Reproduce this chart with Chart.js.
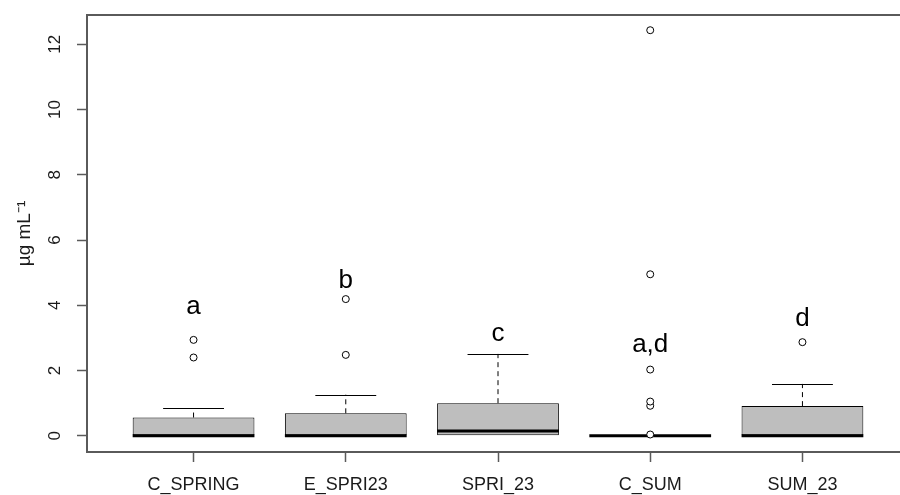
<!DOCTYPE html>
<html>
<head>
<meta charset="utf-8">
<script src="https://cdn.jsdelivr.net/npm/chart.js@4.4.1/dist/chart.umd.min.js"></script>
<style>
  html, body { margin: 0; padding: 0; background: #fff; overflow: hidden; }
  #wrap { width: 900px; height: 495px; overflow: hidden; }
</style>
</head>
<body>
<div id="wrap"><canvas id="boxChart" width="914" height="495"></canvas></div>
<script>
// groups and box statistics
var categories = ['C_SPRING', 'E_SPRI23', 'SPRI_23', 'C_SUM', 'SUM_23'];
var whiskerLow = [0, 0, 0, 0, 0];
var q1 = [0, 0, 0, 0, 0];
var median = [0, 0, 0.15, 0, 0];
var q3 = [0.56, 0.69, 1.0, 0, 0.91];
var whiskerHigh = [0.84, 1.26, 2.51, 0, 1.59];
var outliers = [
  [2.40, 2.94],
  [2.48, 4.19],
  [],
  [0.04, 0.92, 1.05, 2.03, 4.95, 12.43],
  [2.87]
];
// significance letters and their baseline height
var letters = ['a', 'b', 'c', 'a,d', 'd'];
var letterY = [3.72, 4.54, 2.92, 2.56, 3.38];
var yTicks = [0, 2, 4, 6, 8, 10, 12];

var frameColor = '#5a5a5a';

var boxData = [];
var outlierData = [];
for (var i = 0; i < categories.length; i++) {
  boxData.push({ x: i + 1, y: [q1[i], q3[i]] });
  for (var j = 0; j < outliers[i].length; j++) {
    outlierData.push({ x: i + 1, y: outliers[i][j] });
  }
}

// whiskers, staples and medians, drawn right after the boxes
var boxExtras = {
  id: 'boxExtras',
  afterDatasetDraw: function(chart, args) {
    if (args.index !== 1) return;
    var ctx = chart.ctx;
    var xs = chart.scales.x, ys = chart.scales.y;
    var unit = xs.getPixelForValue(2) - xs.getPixelForValue(1);
    ctx.save();
    for (var i = 0; i < categories.length; i++) {
      var cx = xs.getPixelForValue(i + 1);
      var half = unit * 0.4;
      var staple = unit * 0.2;
      ctx.strokeStyle = '#000';
      ctx.lineWidth = 1;
      // dashed whiskers
      ctx.setLineDash([5, 4]);
      ctx.beginPath();
      ctx.moveTo(cx, ys.getPixelForValue(q3[i]));
      ctx.lineTo(cx, ys.getPixelForValue(whiskerHigh[i]));
      ctx.moveTo(cx, ys.getPixelForValue(q1[i]));
      ctx.lineTo(cx, ys.getPixelForValue(whiskerLow[i]));
      ctx.stroke();
      ctx.setLineDash([]);
      // staples (the low one sits on the box edge when it equals q1)
      ctx.beginPath();
      var yh = Math.round(ys.getPixelForValue(whiskerHigh[i])) + 0.5;
      ctx.moveTo(cx - staple, yh); ctx.lineTo(cx + staple, yh);
      if (whiskerLow[i] < q1[i]) {
        var yl = Math.round(ys.getPixelForValue(whiskerLow[i])) + 0.5;
        ctx.moveTo(cx - staple, yl); ctx.lineTo(cx + staple, yl);
      }
      ctx.stroke();
      // median
      ctx.lineWidth = 3;
      ctx.beginPath();
      var ym = ys.getPixelForValue(median[i]);
      ctx.moveTo(cx - half, ym); ctx.lineTo(cx + half, ym);
      ctx.stroke();
    }
    ctx.restore();
  },
  afterDraw: function(chart) {
    var ctx = chart.ctx;
    var xs = chart.scales.x, ys = chart.scales.y;
    var area = chart.chartArea;
    ctx.save();
    // top frame line
    ctx.strokeStyle = frameColor;
    ctx.lineWidth = 2;
    ctx.beginPath();
    ctx.moveTo(area.left, area.top);
    ctx.lineTo(area.right, area.top);
    ctx.stroke();
    // letters
    ctx.fillStyle = '#000';
    ctx.font = '26px "Liberation Sans", Arial, sans-serif';
    ctx.textAlign = 'center';
    ctx.textBaseline = 'alphabetic';
    for (var i = 0; i < letters.length; i++) {
      ctx.fillText(letters[i], xs.getPixelForValue(i + 1), ys.getPixelForValue(letterY[i]));
    }
    ctx.restore();
  }
};

Chart.defaults.font.family = '"Liberation Sans", Arial, sans-serif';
Chart.defaults.color = '#1a1a1a';

new Chart(document.getElementById('boxChart'), {
  data: {
    datasets: [
      {
        type: 'scatter',
        data: outlierData,
        pointStyle: 'circle',
        pointRadius: 3.5,
        pointBorderWidth: 1,
        pointBackgroundColor: '#ffffff',
        pointBorderColor: '#000000'
      },
      {
        type: 'bar',
        data: boxData,
        backgroundColor: '#bebebe',
        borderColor: '#000000',
        borderWidth: 1,
        borderSkipped: false,
        barPercentage: 0.8,
        categoryPercentage: 1.0,
        grouped: false
      }
    ]
  },
  options: {
    responsive: false,
    animation: false,
    layout: { padding: { top: 15, left: 0, right: 0, bottom: 0 } },
    plugins: {
      legend: { display: false },
      tooltip: { enabled: false }
    },
    scales: {
      x: {
        type: 'linear',
        min: 0.3,
        max: 5.7,
        offset: false,
        afterBuildTicks: function(s) {
          s.ticks = categories.map(function(c, i) { return { value: i + 1 }; });
        },
        afterFit: function(s) {
          s.height = 43;
          s.paddingLeft = 0;
          s.paddingRight = 0;
        },
        grid: {
          offset: false,
          drawOnChartArea: false,
          drawTicks: true,
          tickLength: 10,
          tickColor: frameColor,
          tickWidth: 1.5
        },
        border: { display: true, color: frameColor, width: 2 },
        ticks: {
          autoSkip: false,
          maxRotation: 0,
          padding: 12,
          font: { size: 18 },
          callback: function(v) { return categories[v - 1]; }
        }
      },
      y: {
        type: 'linear',
        min: -0.496,
        max: 12.896,
        afterBuildTicks: function(s) {
          s.ticks = yTicks.map(function(v) { return { value: v }; });
        },
        afterFit: function(s) {
          s.width = 87;
          s.paddingTop = 0;
          s.paddingBottom = 0;
        },
        grid: {
          drawOnChartArea: false,
          drawTicks: true,
          tickLength: 10,
          tickColor: frameColor,
          tickWidth: 1.5
        },
        border: { display: true, color: frameColor, width: 2 },
        ticks: {
          minRotation: 90,
          maxRotation: 90,
          crossAlign: 'center',
          padding: 12,
          font: { size: 17 }
        },
        title: {
          display: true,
          text: 'µg mL⁻¹',
          font: { size: 19 },
          padding: { top: 13, bottom: 0 }
        }
      }
    }
  },
  plugins: [boxExtras]
});
</script>
</body>
</html>
